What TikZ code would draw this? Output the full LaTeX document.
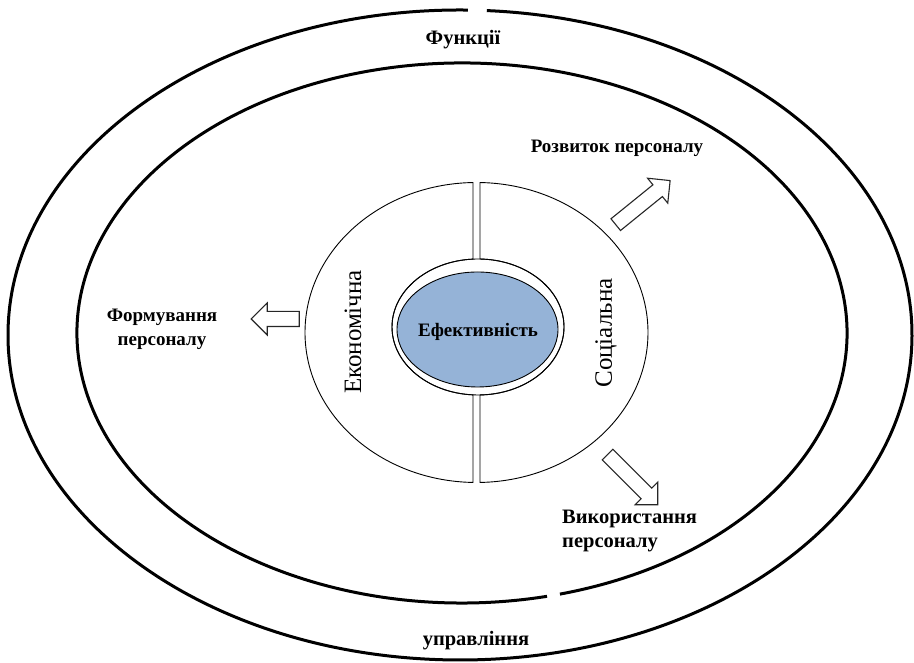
\documentclass[tikz,border=0pt]{standalone}
\usepackage{fontspec}
\setmainfont{Liberation Serif}
\usetikzlibrary{shapes.arrows,calc}
\definecolor{effblue}{HTML}{95B3D7}
\tikzset{frame/.style={line width=3pt},
  half/.style={draw,line width=0.9pt,fill=white},
  lbl/.style={font=\bfseries\fontsize{19}{24}\selectfont,inner sep=0pt},
  side/.style={font=\fontsize{25}{28}\selectfont,inner sep=0pt,rotate=90},
  blockarrow/.style={single arrow,draw=black!85,fill=white,line width=1.1pt,
    minimum height=#1,minimum width=31pt,single arrow head extend=8.5pt,inner sep=7pt}}

\begin{document}
\begin{tikzpicture}[x=1pt,y=1pt]
  \useasboundingbox (0,0) rectangle (914,663);
  \draw[frame] (460,328) ++(89:452 and 325)
    arc[start angle=89,end angle=446.6,x radius=452,y radius=325];
  \draw[frame] (462,330) ++(284.74:385 and 270)
    arc[start angle=284.74,end angle=642.76,x radius=385,y radius=270];
  \draw[half] (476.5,330.5) ++(91.17:171.5 and 150)
    arc[start angle=91.17,end angle=268.83,x radius=171.5,y radius=150]
    -- ($(478,336)+(266.67:86 and 68)$)
    arc[start angle=266.67,end angle=93.33,x radius=86,y radius=68] -- cycle;
  \draw[half] (476.5,330.5) ++(-88.83:171.5 and 150)
    arc[start angle=-88.83,end angle=88.83,x radius=171.5,y radius=150]
    -- ($(478,336)+(88.67:86 and 68)$)
    arc[start angle=88.67,end angle=-88.67,x radius=86,y radius=68] -- cycle;
  \draw[line width=0.9pt] (478,336) ellipse[x radius=86,y radius=68];
  \draw[line width=0.9pt,fill=effblue] (477.5,333.5) ellipse[x radius=80.5,y radius=57.5];
  \node[lbl] (eff) at (478,331) {Ефективність};
  \node[side] (econ) at (353,331) {Економічна};
  \node[side] (soc) at (606,330) {Соціальна};
  \node[lbl,font=\bfseries\fontsize{20.5}{24}\selectfont] (func) at (463,623) {Функції};
  \node[lbl,font=\bfseries\fontsize{20.5}{24}\selectfont] (mgmt) at (476,22) {управління};
  \node[blockarrow=48,rotate=180] (arrF) at (279,344) {};
  \node[blockarrow=70,rotate=39] (arrR) at (640,458) {};
  \node[blockarrow=71,rotate=-45] (arrV) at (630,186) {};
  \node[lbl,align=center] (form) at (162,334) {Формування\\персоналу};
  \node[lbl] (dev) at (617,515) {Розвиток персоналу};
  \node[lbl,align=left,anchor=north west,font=\bfseries\fontsize{20.5}{24}\selectfont] (use) at (562,153) {Використання\\персоналу};
\end{tikzpicture}
\end{document}
